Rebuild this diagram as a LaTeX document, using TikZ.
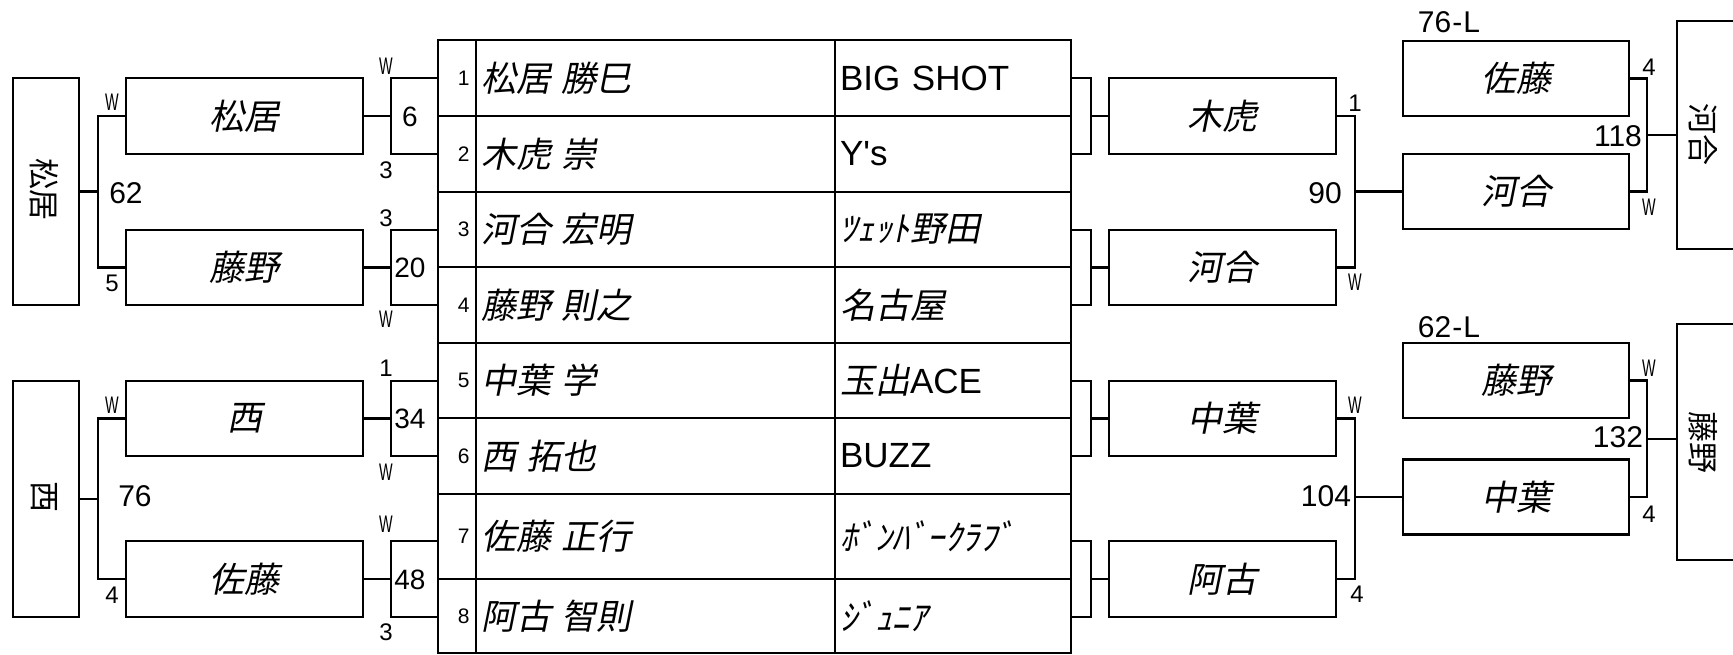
\documentclass[tikz,border=0pt]{standalone}
\usepackage{fontspec}
\setmainfont{Liberation Sans}
\newfontfamily\latfont{Liberation Sans}
\newfontfamily\jpfont{Noto Sans CJK JP}
\newfontfamily\jpit{Noto Sans CJK JP}[FakeSlant=0.2]
\newfontfamily\narrowfont{Liberation Sans}[FakeStretch=0.6]
\newcommand\setfs[1]{\fontsize{#1}{#1}\selectfont}
\tikzset{
  bx/.style={draw, rectangle, line width=2.5pt, inner sep=0pt, outer sep=0pt},
  conn/.style={line width=2.5pt},
  nm/.style={font=\jpit\setfs{35pt}},
  vt/.style={font=\jpfont\setfs{31pt}, inner sep=0pt},
  lbl/.style={font=\setfs{24pt}, inner sep=0pt},
  wl/.style={font=\narrowfont\setfs{24pt}, inner sep=0pt},
  big/.style={font=\setfs{30pt}, inner sep=0pt},
  sbn/.style={font=\setfs{28pt}, inner sep=0pt}
}
\newcommand\tabrow[5]{%
  \node[bx, minimum width=38pt, minimum height=#3pt, text width=25pt, align=right, inner xsep=6.5pt, font=\setfs{21pt}] (ix#1) at (457,#2) {#1};
  \node[bx, minimum width=359pt, minimum height=#3pt, text width=349pt, align=left, inner xsep=5pt, font=\jpit\setfs{35pt}] (nm#1) at (655.5,#2) {#4};
  \node[bx, minimum width=236pt, minimum height=#3pt, text width=226pt, align=left, inner xsep=5pt, font=\setfs{35pt}] (tm#1) at (953,#2) {#5};}
\begin{document}
\begin{tikzpicture}[x=1pt,y=-1pt]
\useasboundingbox (0,0) rectangle (1733,655);
\clip (0,0) rectangle (1733,655);

% left outer boxes
\node[bx, minimum width=66pt, minimum height=227pt] (LB1) at (46,191.5) {};
\node[vt] (LB1t) at (44,190) {\rotatebox{-90}{松居}};
\node[bx, minimum width=66pt, minimum height=236pt] (LB2) at (46,499) {};
\node[vt] (LB2t) at (44,497) {\rotatebox{-90}{西}};

% left name boxes
\node[bx, nm, minimum width=237pt, minimum height=76pt] (nL1) at (244.5,116) {松居};
\node[bx, nm, minimum width=237pt, minimum height=75pt] (nL2) at (244.5,267.5) {藤野};
\node[bx, nm, minimum width=237pt, minimum height=75pt] (nL3) at (244.5,418.5) {西};
\node[bx, nm, minimum width=237pt, minimum height=76pt] (nL4) at (244.5,579) {佐藤};

% left small score boxes
\node[bx, minimum width=47pt, minimum height=76pt] (sL1) at (414.5,116) {};
\node[bx, minimum width=47pt, minimum height=75pt] (sL2) at (414.5,267.5) {};
\node[bx, minimum width=47pt, minimum height=75pt] (sL3) at (414.5,418.5) {};
\node[bx, minimum width=47pt, minimum height=76pt] (sL4) at (414.5,579) {};
\node[sbn] (s6) at (410,117) {6};
\node[sbn] (s20) at (410,268) {20};
\node[sbn] (s34) at (410,419) {34};
\node[sbn] (s48) at (410,580) {48};

% table
\tabrow{1}{78}{76}{松居\hspace{0.3em}勝巳}{BIG SHOT}
\tabrow{2}{154}{76}{木虎\hspace{0.3em}崇}{{\latfont Y's}}
\tabrow{3}{229.5}{75}{河合\hspace{0.3em}宏明}{{\jpit ﾂｪｯﾄ野田}}
\tabrow{4}{305}{76}{藤野\hspace{0.3em}則之}{{\jpit 名古屋}}
\tabrow{5}{380.5}{75}{中葉\hspace{0.3em}学}{{\jpit 玉出}ACE}
\tabrow{6}{456}{76}{西\hspace{0.3em}拓也}{BUZZ}
\tabrow{7}{536.5}{85}{佐藤\hspace{0.3em}正行}{{\jpit ﾎﾞﾝﾊﾞｰｸﾗﾌﾞ}}
\tabrow{8}{616}{74}{阿古\hspace{0.3em}智則}{{\jpit ｼﾞｭﾆｱ}}

% right bracket boxes
\node[bx, minimum width=20pt, minimum height=76pt] (rB1) at (1081,116) {};
\node[bx, minimum width=20pt, minimum height=75pt] (rB2) at (1081,267.5) {};
\node[bx, minimum width=20pt, minimum height=75pt] (rB3) at (1081,418.5) {};
\node[bx, minimum width=20pt, minimum height=76pt] (rB4) at (1081,579) {};

% right name boxes
\node[bx, nm, minimum width=227pt, minimum height=76pt] (nR1) at (1222.5,116) {木虎};
\node[bx, nm, minimum width=227pt, minimum height=75pt] (nR2) at (1222.5,267.5) {河合};
\node[bx, nm, minimum width=227pt, minimum height=75pt] (nR3) at (1222.5,418.5) {中葉};
\node[bx, nm, minimum width=227pt, minimum height=76pt] (nR4) at (1222.5,579) {阿古};

% second right column
\node[bx, nm, minimum width=226pt, minimum height=75pt] (fR1) at (1516,78.5) {佐藤};
\node[bx, nm, minimum width=226pt, minimum height=75pt] (fR2) at (1516,191.5) {河合};
\node[bx, nm, minimum width=226pt, minimum height=75pt] (fR3) at (1516,380.5) {藤野};
\node[bx, nm, minimum width=226pt, minimum height=75pt] (fR4) at (1516,497) {中葉};

% final boxes
\node[bx, minimum width=68pt, minimum height=228pt] (W1) at (1711,135) {};
\node[vt] (W1t) at (1703,135) {\rotatebox{-90}{河合}};
\node[bx, minimum width=68pt, minimum height=236pt] (W2) at (1711,442) {};
\node[vt] (W2t) at (1703,442) {\rotatebox{-90}{藤野}};

% junctions
\coordinate (jL1) at (98,191.5);
\coordinate (jL2) at (98,499);
\coordinate (jR1) at (1355,191.5);
\coordinate (jR2) at (1355,497);
\coordinate (jF1) at (1647,135);
\coordinate (jF2) at (1647,438.75);

% connectors left
\draw[conn] (nL1.east) -- (sL1.west);
\draw[conn] (nL2.east) -- (sL2.west);
\draw[conn] (nL3.east) -- (sL3.west);
\draw[conn] (nL4.east) -- (sL4.west);
\draw[conn] (nL1.west) -| (jL1) |- (nL2.west);
\draw[conn] (LB1.east) -- (jL1);
\draw[conn] (nL3.west) -| (jL2) |- (nL4.west);
\draw[conn] (LB2.east) -- (jL2);

% connectors right
\draw[conn] (rB1.east) -- (nR1.west);
\draw[conn] (rB2.east) -- (nR2.west);
\draw[conn] (rB3.east) -- (nR3.west);
\draw[conn] (rB4.east) -- (nR4.west);
\draw[conn] (nR1.east) -| (jR1) |- (nR2.east);
\draw[conn] (jR1) -- (fR2.west);
\draw[conn] (nR3.east) -| (jR2) |- (nR4.east);
\draw[conn] (jR2) -- (fR4.west);
\draw[conn] (fR1.east) -| (jF1) |- (fR2.east);
\draw[conn] (jF1) -- (W1.west);
\draw[conn] (fR3.east) -| (jF2) |- (fR4.east);
\draw[conn] (jF2) -- (jF2 -| W2.west);

% labels left
\node[wl] (a1) at (112,102) {W};
\node[big] (a2) at (126,193) {62};
\node[lbl] (a3) at (112,283) {5};
\node[wl] (a4) at (112,405) {W};
\node[big] (a5) at (135,496) {76};
\node[lbl] (a6) at (112,595) {4};
\node[wl] (b1) at (386,66) {W};
\node[lbl] (b2) at (386,170) {3};
\node[lbl] (b3) at (386,218) {3};
\node[wl] (b4) at (386,319) {W};
\node[lbl] (b5) at (386,368) {1};
\node[wl] (b6) at (386,472) {W};
\node[wl] (b7) at (386,524) {W};
\node[lbl] (b8) at (386,632) {3};

% labels right
\node[lbl] (c1) at (1355,103) {1};
\node[big] (c2) at (1325,193) {90};
\node[wl] (c3) at (1355,282) {W};
\node[wl] (c4) at (1355,405) {W};
\node[big] (c5) at (1326,496) {104};
\node[lbl] (c6) at (1357,594) {4};
\node[big] (d1) at (1449,22) {76\kern1pt-\kern1pt L};
\node[lbl] (d2) at (1649,67) {4};
\node[big] (d3) at (1618,136) {118};
\node[wl] (d4) at (1649,207) {W};
\node[big] (d5) at (1449,327) {62\kern1pt-\kern1pt L};
\node[wl] (d6) at (1649,368) {W};
\node[big] (d7) at (1618,437) {132};
\node[lbl] (d8) at (1649,514) {4};
\end{tikzpicture}
\end{document}
